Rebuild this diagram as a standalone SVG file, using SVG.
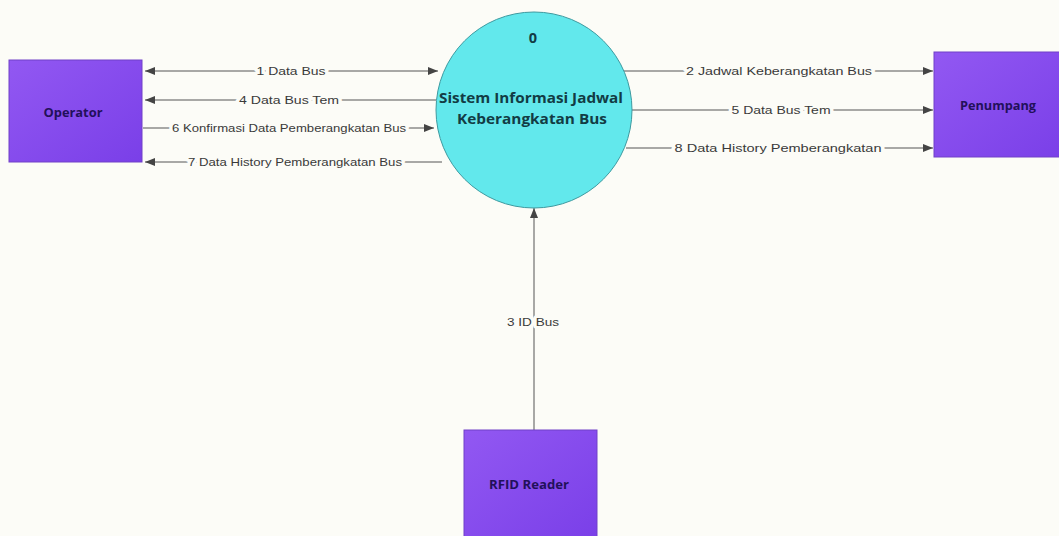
<svg xmlns="http://www.w3.org/2000/svg" width="1059" height="536" viewBox="0 0 1059 536">
  <defs>
    <linearGradient id="entityFill" x1="0" y1="0" x2="1" y2="1">
      <stop offset="0" stop-color="#9258f2"/>
      <stop offset="1" stop-color="#7a3fe8"/>
    </linearGradient>
    <marker id="arrow" viewBox="0 0 10 8" refX="10" refY="4" markerWidth="10" markerHeight="8" markerUnits="userSpaceOnUse" orient="auto-start-reverse">
      <path d="M0,0 L10,4 L0,8 Z" fill="#444"/>
    </marker>
    <style>
      .entity { fill: url(#entityFill); stroke: #7040c8; stroke-width: 1; }
      .entity-label { font-family: "Open Sans", "Liberation Sans", sans-serif; font-size: 12px; font-weight: bold; fill: #22105a; text-anchor: middle; }
      .process { fill: #62e8ec; stroke: #3d9aa0; stroke-width: 1; }
      .process-label { font-family: "Open Sans", "Liberation Sans", sans-serif; font-size: 14.5px; font-weight: bold; fill: #123c44; text-anchor: middle; }
      .flow { stroke: #555; stroke-width: 1; fill: none; }
      .flow-label { font-family: "Liberation Sans", "Noto Sans", sans-serif; font-size: 11.5px; fill: #3a3a3a; text-anchor: middle; paint-order: stroke; stroke: #fcfcf7; stroke-width: 6px; stroke-linejoin: round; }
    </style>
  </defs>

  <rect width="1059" height="536" fill="#fcfcf7"/>

  <!-- data flows -->
  <g id="connectors">
    <line class="flow" x1="145" y1="71" x2="438" y2="71" marker-start="url(#arrow)" marker-end="url(#arrow)"/>
    <text class="flow-label" x="291" y="75" textLength="69" lengthAdjust="spacingAndGlyphs">1 Data Bus</text>

    <line class="flow" x1="436" y1="100" x2="145" y2="100" marker-end="url(#arrow)"/>
    <text class="flow-label" x="289" y="104" textLength="100" lengthAdjust="spacingAndGlyphs">4 Data Bus Tem</text>

    <line class="flow" x1="143" y1="128" x2="434" y2="128" marker-end="url(#arrow)"/>
    <text class="flow-label" x="289" y="132" textLength="234" lengthAdjust="spacingAndGlyphs">6 Konfirmasi Data Pemberangkatan Bus</text>

    <line class="flow" x1="442" y1="162" x2="145" y2="162" marker-end="url(#arrow)"/>
    <text class="flow-label" x="295" y="166" textLength="214" lengthAdjust="spacingAndGlyphs">7 Data History Pemberangkatan Bus</text>

    <line class="flow" x1="620" y1="71" x2="933" y2="71" marker-end="url(#arrow)"/>
    <text class="flow-label" x="779" y="75" textLength="186" lengthAdjust="spacingAndGlyphs">2 Jadwal Keberangkatan Bus</text>

    <line class="flow" x1="632" y1="110" x2="933" y2="110" marker-end="url(#arrow)"/>
    <text class="flow-label" x="781" y="114" textLength="99" lengthAdjust="spacingAndGlyphs">5 Data Bus Tem</text>

    <line class="flow" x1="626" y1="148" x2="933" y2="148" marker-end="url(#arrow)"/>
    <text class="flow-label" x="778" y="152" textLength="207" lengthAdjust="spacingAndGlyphs">8 Data History Pemberangkatan</text>

    <line class="flow" x1="534" y1="430" x2="534" y2="208" marker-end="url(#arrow)"/>
    <text class="flow-label" x="533" y="326" textLength="52" lengthAdjust="spacingAndGlyphs">3 ID Bus</text>
  </g>

  <!-- external entities -->
  <g id="operator">
    <rect class="entity" x="9" y="60" width="133" height="102"/>
    <text class="entity-label" x="73" y="117" textLength="59" lengthAdjust="spacingAndGlyphs">Operator</text>
  </g>

  <g id="penumpang">
    <rect class="entity" x="934" y="52" width="130" height="105"/>
    <text class="entity-label" x="998" y="110" textLength="76" lengthAdjust="spacingAndGlyphs">Penumpang</text>
  </g>

  <g id="rfid-reader">
    <rect class="entity" x="464" y="430" width="133" height="110"/>
    <text class="entity-label" x="529" y="489" textLength="80" lengthAdjust="spacingAndGlyphs">RFID Reader</text>
  </g>

  <!-- process 0 -->
  <g id="process-0">
    <circle class="process" cx="534" cy="110" r="98"/>
    <text class="process-label" x="533" y="43">0</text>
    <text class="process-label" x="531" y="103" textLength="184" lengthAdjust="spacingAndGlyphs">Sistem Informasi Jadwal</text>
    <text class="process-label" x="532" y="124" textLength="150" lengthAdjust="spacingAndGlyphs">Keberangkatan Bus</text>
  </g>
</svg>
